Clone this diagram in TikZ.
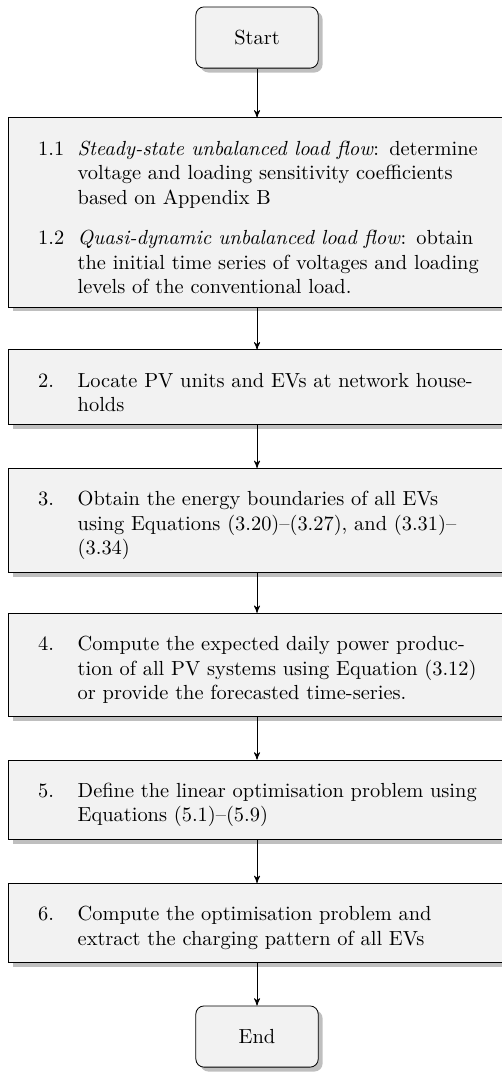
\documentclass[tikz,border=0pt]{standalone}
\usepackage{tikz}
\usetikzlibrary{arrows,shadows,positioning}
\usepackage{ragged2e}
\usepackage{enumitem}
\setlist[enumerate]{leftmargin=19.4pt,labelwidth=19.4pt,labelsep=0pt,align=left,
  rightmargin=-3.8pt,topsep=0pt,partopsep=0pt,itemsep=4pt,before=\RaggedRight}
\hyphenation{extract}

\tikzset{
  terminal/.style={rectangle, rounded corners=4pt, draw, fill=gray!10, drop shadow,
    minimum width=60pt, minimum height=30pt},
  process/.style={rectangle, draw, fill=gray!10, drop shadow,
    text width=214.6pt, inner xsep=14.7pt, inner ysep=6.3pt},
}

\begin{document}
\begin{tikzpicture}[>=stealth',auto,node distance=21pt]

\useasboundingbox (-126pt,18.4pt) rectangle (120pt,-507.6pt);

\node[terminal]  (start) at (0,0) {Start};
\node[process]   (s1) [below=24pt of start] {
  \begin{enumerate}
    \item[1.1] \emph{Steady-state unbalanced load flow}: determine voltage and loading sensitivity coefficients based on Appendix B
    \item[1.2] \emph{Quasi-dynamic unbalanced load flow}: obtain the initial time series of voltages and loading levels of the conventional load.
  \end{enumerate}};
\node[process]   (s2) [below=20.6pt of s1] {
  \begin{enumerate}
    \item[2.] Locate PV units and EVs at network households
  \end{enumerate}};
\node[process]   (s3) [below=of s2] {
  \begin{enumerate}
    \item[3.] Obtain the energy boundaries of all EVs using Equations (3.20)--(3.27), and (3.31)--(3.34)
  \end{enumerate}};
\node[process]   (s4) [below=19.5pt of s3] {
  \begin{enumerate}
    \item[4.] Compute the expected daily power production of all PV systems using Equation (3.12) or provide the forecasted time-series.
  \end{enumerate}};
\node[process]   (s5) [below=of s4] {
  \begin{enumerate}
    \item[5.] Define the linear optimisation problem using Equations (5.1)--(5.9)
  \end{enumerate}};
\node[process]   (s6) [below=of s5] {
  \begin{enumerate}
    \item[6.] Compute the optimisation problem and extract the charging pattern of all EVs
  \end{enumerate}};
\node[terminal]  (end) [below=of s6] {End};

\path[->] (start) edge (s1)
          (s1)    edge (s2)
          (s2)    edge (s3)
          (s3)    edge (s4)
          (s4)    edge (s5)
          (s5)    edge (s6)
          (s6)    edge (end);
\end{tikzpicture}
\end{document}
